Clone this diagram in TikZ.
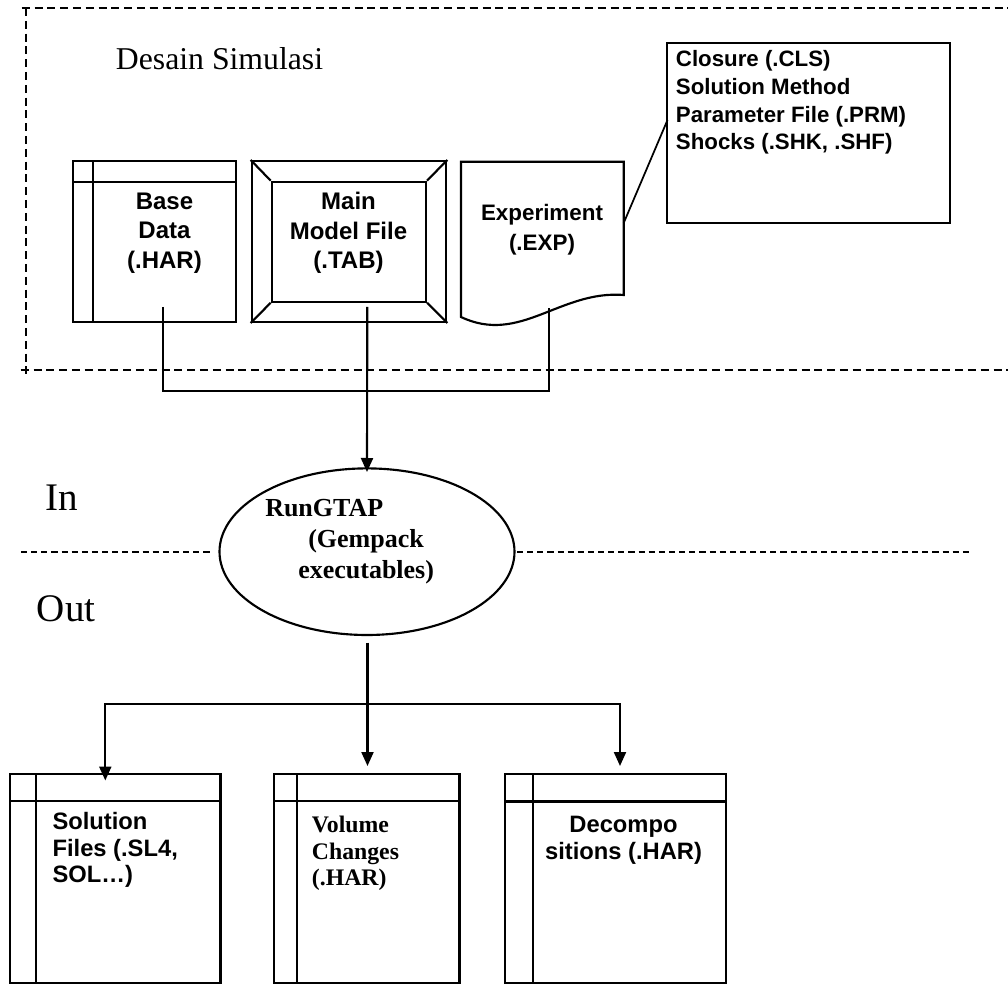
\documentclass[tikz,border=0pt]{standalone}
\usepackage{fontspec}
\setmainfont{Liberation Serif}
\newfontfamily\arialf{Liberation Sans}
\usetikzlibrary{arrows.meta,shapes.geometric,calc}
\begin{document}
\begin{tikzpicture}[x=0.75pt,y=-0.75pt,
  ln/.style={line width=1.6pt},
  dashln/.style={line width=1.3pt, dash pattern=on 6pt off 3.6pt},
  middash/.style={line width=1.3pt, dash pattern=on 4.6pt off 3pt},
  arr/.style={ln, -{Triangle[length=10.5pt,width=9pt]}},
  boxshape/.style={draw, ln, rectangle, inner sep=0pt},
  sanslbl/.style={inner sep=0pt},
]
\useasboundingbox (0,0) rectangle (1008,984);

% dashed frame of the design area
\draw[dashln] (21.7,8) -- (1008,8);
\draw[dashln] (26,8) -- (26,377);
\draw[dashln] (20.7,370) -- (1008,370);

\node[anchor=base west, inner sep=0pt, font=\fontsize{23.8pt}{28pt}\selectfont] (desain) at (115.7,69.3) {Desain Simulasi};

% Base Data
\node[boxshape, minimum width=122.5pt, minimum height=120.75pt] (base) at (154.3,241.5) {};
\draw[ln] (93,161) -- (93,322);
\draw[ln] (72.7,182) -- (236,182);
\node[sanslbl, align=center, font=\arialf\bfseries\fontsize{18pt}{22pt}\selectfont] (basetxt) at (164.5,233) {Base\\Data\\(.HAR)};

% Main Model File
\node[boxshape, minimum width=145.95pt, minimum height=120.75pt] (main) at (349,241.5) {};
\node[boxshape, minimum width=115.7pt, minimum height=90pt] (maininner) at (348.85,241.7) {};
\draw[ln] (main.north west) -- (maininner.north west);
\draw[ln] (main.north east) -- (maininner.north east);
\draw[ln] (main.south west) -- (maininner.south west);
\draw[ln] (main.south east) -- (maininner.south east);
\node[sanslbl, align=center, font=\arialf\bfseries\fontsize{18pt}{22pt}\selectfont] (maintxt) at (348.5,233) {Main\\Model File\\(.TAB)};

% Experiment (document shape)
\draw[ln] (461,161.7) -- (623.7,161.7) -- (623.7,295)
  .. controls (560,290) and (520,345) .. (461,317) -- cycle;
\node[sanslbl, align=center, font=\arialf\bfseries\fontsize{16.8pt}{22.5pt}\selectfont] (exptxt) at (542,230) {Experiment\\(.EXP)};

% Notes box
\node[boxshape, minimum width=212pt, minimum height=134.55pt] (notes) at (808.65,133) {};
\node[sanslbl, anchor=west, align=left, font=\arialf\bfseries\fontsize{16.7pt}{20.8pt}\selectfont] (notestxt) at (675.7,102.5) {Closure (.CLS)\\Solution Method\\Parameter File (.PRM)\\Shocks (.SHK, .SHF)};
\coordinate (expR) at (623.7,223);
\coordinate (notesL) at (667.5,120);
\draw[line width=1.3pt] (expR) -- (notesL);

% inputs to RunGTAP
\coordinate (baseOut) at (162.7,307);
\coordinate (mainOut) at (367.3,307);
\coordinate (expOut) at (549.3,308);
\coordinate (join) at (367.3,391);
\draw[ln] (baseOut) |- (join) -| (expOut);

% RunGTAP
\node[draw, ln, ellipse, minimum width=221.25pt, minimum height=124.95pt, inner sep=0pt] (run) at (367,551.7) {};
\draw[arr, shorten >=-3.5pt] (mainOut) -- (run.north);
\node[sanslbl, anchor=west, align=left, font=\bfseries\fontsize{19.5pt}{23.25pt}\selectfont] (runtxt) at (265,541.5) {RunGTAP\\\hspace*{32.25pt}(Gempack\\\hspace*{24.75pt}executables)};

% In / Out separator
\draw[middash] (21,551.7) -- (211,551.7);
\draw[middash] (517,551.7) -- (969,551.7);
\node[anchor=base west, inner sep=0pt, font=\fontsize{29.3pt}{34pt}\selectfont] (in) at (45.7,511) {In};
\node[anchor=base west, inner sep=0pt, font=\fontsize{29.3pt}{34pt}\selectfont] (out) at (36.7,621.7) {Out};

% outputs
\node[boxshape, minimum width=158.1pt, minimum height=156.3pt] (out1) at (115.1,878.5) {};
\draw[ln] (36.2,774.3) -- (36.2,982.7);
\draw[ln] (9.7,801) -- (220.5,801);
\node[boxshape, minimum width=139.3pt, minimum height=156.3pt] (out2) at (366.65,878.5) {};
\draw[ln] (296.7,774.3) -- (296.7,982.7);
\draw[ln] (273.8,801) -- (459.5,801);
\node[boxshape, minimum width=165.5pt, minimum height=156.3pt] (out3) at (615.65,878.5) {};
\draw[ln] (532.8,774.3) -- (532.8,982.7);
\draw[ln] (505.3,801.5) -- (726,801.5);

\node[sanslbl, anchor=west, align=left, font=\arialf\bfseries\fontsize{17.8pt}{19.7pt}\selectfont] (out1txt) at (52.3,850) {Solution\\Files (.SL4,\\SOL…)};
\node[sanslbl, anchor=west, align=left, font=\bfseries\fontsize{17.8pt}{20pt}\selectfont] (out2txt) at (311.7,853.5) {Volume\\Changes\\(.HAR)};
\node[sanslbl, align=center, font=\arialf\bfseries\fontsize{17.8pt}{20.5pt}\selectfont] (out3txt) at (623.5,840) {Decompo\\sitions (.HAR)};

\coordinate (runOut) at (367.5,642.7);
\coordinate (split) at (367.5,704.3);
\coordinate (arr1) at (105.3,780.5);
\coordinate (arr2) at (367.5,766);
\coordinate (arr3) at (620,766);
\draw[arr] (runOut) -- (arr2);
\draw[arr] (split) -| (arr1);
\draw[arr] (split) -| (arr3);
\end{tikzpicture}
\end{document}
